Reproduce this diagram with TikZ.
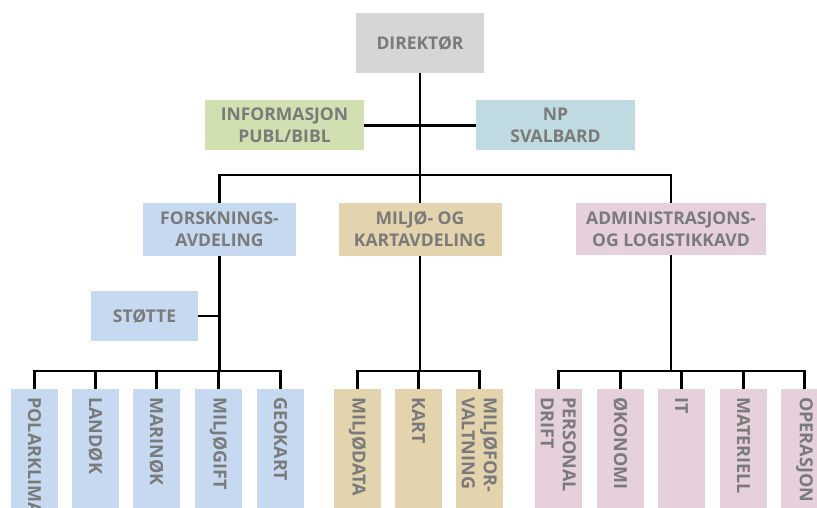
\documentclass[tikz,border=0pt]{standalone}
\usepackage{fontspec}
\setmainfont{Open Sans}
\usetikzlibrary{positioning}
\definecolor{txtgray}{RGB}{122,122,122}
\definecolor{dirgray}{RGB}{214,214,214}
\definecolor{infogreen}{RGB}{208,224,177}
\definecolor{npblue}{RGB}{191,218,224}
\definecolor{forskblue}{RGB}{198,217,240}
\definecolor{miljotan}{RGB}{227,212,173}
\definecolor{adminpink}{RGB}{229,208,220}
\tikzset{
    unit/.style={inner sep=0pt, align=center, text=txtgray,
        font=\bfseries\fontsize{17.5}{22}\selectfont},
    leaf/.style={rotate=-90, anchor=west, minimum height=47pt,
        text width=108pt, inner xsep=8pt, inner ysep=0pt, align=left,
        text=txtgray, font=\bfseries\fontsize{18}{22}\selectfont},
    link/.style={line width=2.2pt}
}
\begin{document}
\begin{tikzpicture}[x=1pt,y=-1pt]
            \path[use as bounding box, fill=white] (0,0) rectangle (817,508);
            % top level
            \node[unit, fill=dirgray, minimum width=128pt, minimum height=60pt] (dir) at (420,43) {DIREKTØR};
            \node[unit, fill=infogreen, minimum width=159pt, minimum height=50pt] (info) at (284.5,125.5) {INFORMASJON\\PUBL/BIBL};
            \node[unit, fill=npblue, minimum width=159pt, minimum height=50pt] (np) at (555.5,125.5) {NP\\SVALBARD};
            \coordinate (hub) at (420,175);
            % departments
            \node[unit, fill=forskblue, minimum width=153pt, minimum height=53pt] (forsk) at (219.5,229.5) {FORSKNINGS-\\AVDELING};
            \node[unit, fill=miljotan, minimum width=163pt, minimum height=53pt] (miljo) at (420,229.5) {MILJØ- OG\\KARTAVDELING};
            \node[unit, fill=adminpink, minimum width=190pt, minimum height=52pt] (admin) at (671,229) {ADMINISTRASJONS-\\OG LOGISTIKKAVD};
            \node[unit, fill=forskblue, minimum width=107pt, minimum height=50pt] (stotte) at (144.5,316) {STØTTE};
            \coordinate (fbar) at (219.5,371);
            \coordinate (mbar) at (420,371);
            \coordinate (abar) at (671,371);
            % sections
            \foreach \x/\name/\txt in {34.5/polar/POLARKLIMA, 95.5/land/LANDØK, 156.5/marin/MARINØK, 218.5/gift/MILJØGIFT, 280.5/geo/GEOKART} {
                \node[leaf, fill=forskblue] (\name) at (\x,389) {\txt};
            }
            \foreach \x/\name/\txt in {357.5/data/MILJØDATA, 418.5/kart/KART, 479.5/forv/{MILJØFOR-\\VALTNING}} {
                \node[leaf, fill=miljotan] (\name) at (\x,389) {\txt};
            }
            \foreach \x/\name/\txt in {558.5/pers/{PERSONAL\\DRIFT}, 620.5/oko/ØKONOMI, 681.5/it/IT, 743.5/mat/MATERIELL, 804.5/ops/OPERASJON} {
                \node[leaf, fill=adminpink] (\name) at (\x,389) {\txt};
            }
            % lines
            \draw[link] (dir) -- (hub);
            \draw[link] (info) -- (np);
            \draw[link] (forsk.north) |- (hub) -| (admin.north);
            \draw[link] (hub) -- (miljo);
            \draw[link] (forsk) -- (fbar);
            \draw[link] (stotte.east) -- (stotte.east -| forsk.south);
            \draw[link] (miljo) -- (mbar);
            \draw[link] (admin) -- (abar);
            \draw[link] (polar.west) |- (fbar) -| (geo.west);
            \draw[link] (data.west) |- (mbar) -| (forv.west);
            \draw[link] (pers.west) |- (abar) -| (ops.west);
            \foreach \n in {land,marin,gift} {
                \draw[link] (\n.west) -- (\n.west |- fbar);
            }
            \draw[link] (kart.west) -- (kart.west |- mbar);
            \foreach \n in {oko,it,mat} {
                \draw[link] (\n.west) -- (\n.west |- abar);
            }
\end{tikzpicture}
\end{document}
